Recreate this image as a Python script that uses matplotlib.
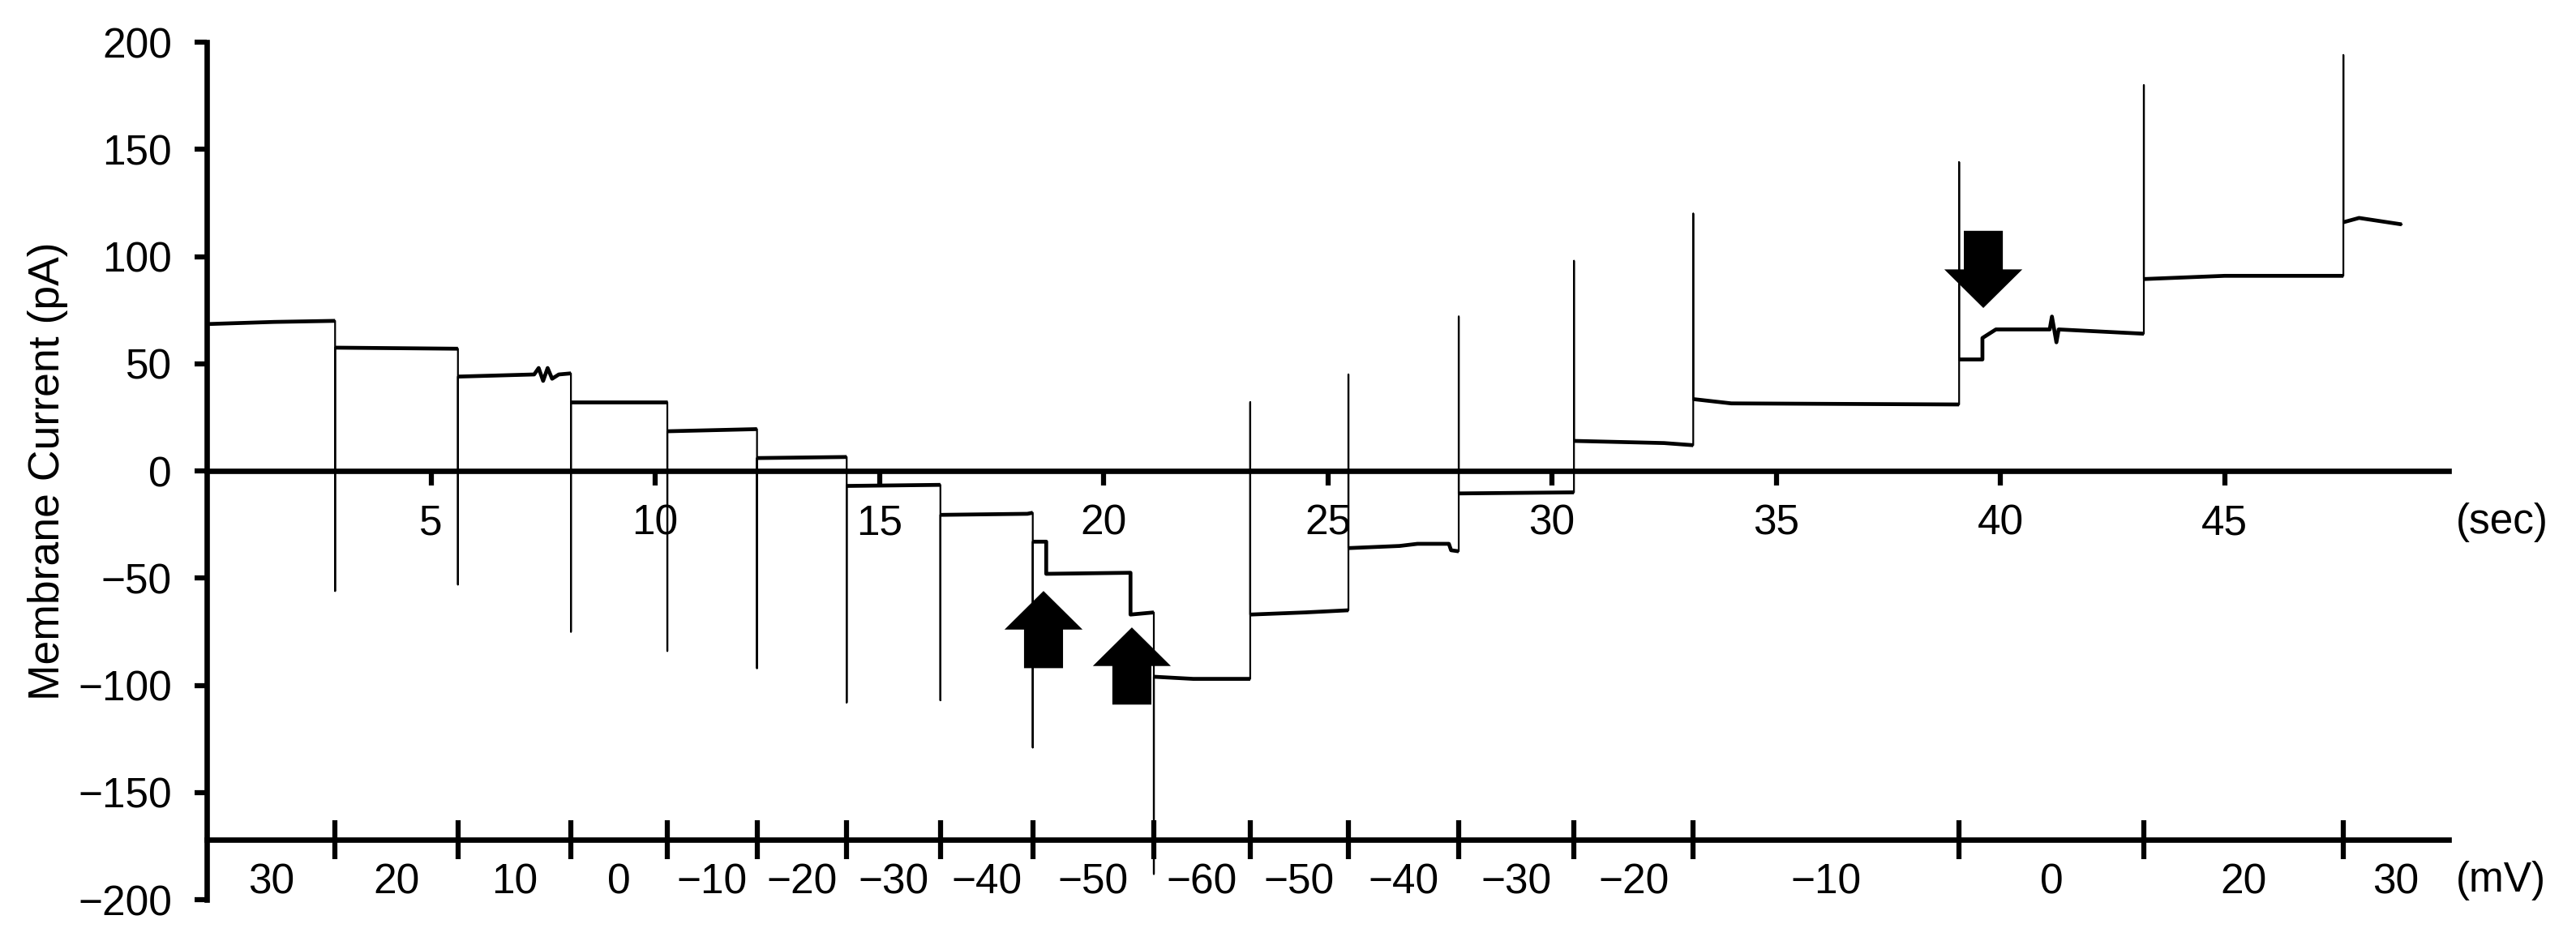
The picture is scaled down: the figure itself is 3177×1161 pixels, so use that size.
import numpy as np
import matplotlib.pyplot as plt

plt.rcParams['font.family'] = ['Liberation Sans', 'DejaVu Sans']

# times (sec) where the holding voltage was changed
step_t = [2.86, 5.6, 8.12, 10.27, 12.27, 14.27, 16.36, 18.42, 21.12, 23.27,
          25.46, 27.92, 30.49, 33.15, 39.08, 43.2, 47.65]
# peak of the capacitive transient at each change (pA)
spike_pA = [-56, -53, -75, -84, -92, -108, -107, -129, -188, 32,
            45, 72, 98, 120, 144, 180, 194]
# holding voltage of each step (mV)
volt_mV = [30, 20, 10, 0, -10, -20, -30, -40, -50, -60,
           -50, -40, -30, -20, -10, 0, 20, 30]
# current read inside each step: (sec, pA)
level_pts = [
    [(0, 68.5), (1.5, 69.5), (2.86, 70)],
    [(2.86, 57.5), (5.6, 57)],
    [(5.6, 44), (7.3, 45), (7.4, 48), (7.5, 42), (7.6, 48), (7.7, 43), (7.85, 45), (8.12, 45.5)],
    [(8.12, 32), (10.27, 32)],
    [(10.27, 18.5), (12.27, 19.5)],
    [(12.27, 6), (14.27, 6.5)],
    [(14.27, -7), (16.36, -6.5)],
    [(16.36, -20.5), (18.3, -20), (18.42, -19.5)],
    [(18.42, -33), (18.72, -33), (18.72, -48), (20.6, -47.5), (20.6, -67), (21.12, -66)],
    [(21.12, -96), (22.0, -97), (23.27, -97)],
    [(23.27, -67), (24.5, -66), (25.46, -65)],
    [(25.46, -36), (26.6, -35), (27.0, -34), (27.7, -34), (27.75, -37), (27.92, -37.5)],
    [(27.92, -10.5), (30.49, -10)],
    [(30.49, 14), (32.5, 13), (33.15, 12)],
    [(33.15, 33.5), (34.0, 31.5), (39.08, 31)],
    [(39.08, 52), (39.6, 52), (39.6, 62), (39.9, 66), (41.1, 66), (41.15, 72), (41.25, 60),
     (41.3, 66), (43.2, 64)],
    [(43.2, 89.5), (45.0, 91), (47.65, 91)],
    [(47.65, 116), (48.0, 118), (48.95, 115)],
]
time_ticks = [5, 10, 15, 20, 25, 30, 35, 40, 45]
current_ticks = [-200, -150, -100, -50, 0, 50, 100, 150, 200]

# arrows marking channel events: time, tail current, direction
arrow_t = [18.66, 20.63, 39.62]
arrow_tail = [-92, -109, 112]
arrow_dir = [1, 1, -1]

# build trace: levels joined by the transient spikes
tr_t, tr_i = [], []
for k, seg in enumerate(level_pts):
    for t, i in seg:
        tr_t.append(t)
        tr_i.append(i)
    if k < len(step_t):
        tr_t.append(step_t[k])
        tr_i.append(spike_pA[k])

fig = plt.figure(figsize=(31.77, 11.61), dpi=100)
ax = fig.add_axes([0.0803, 0.0439, 0.8703, 0.9113])

ax.plot(tr_t, tr_i, color='k', lw=1.6, zorder=3)
# recorded levels look thicker because of channel noise
for seg in level_pts:
    ax.plot([p[0] for p in seg], [p[1] for p in seg], color='k', lw=3.4,
            solid_capstyle='butt', zorder=3)

for t, y0, d in zip(arrow_t, arrow_tail, arrow_dir):
    ax.arrow(t, y0, 0, 36 * d, width=0.87, head_width=1.74, head_length=18,
             length_includes_head=True, fc='k', ec='none', zorder=4)

ax.set_xlim(0, 50)
ax.set_ylim(-200, 200)
ax.spines['top'].set_visible(False)
ax.spines['right'].set_visible(False)
ax.spines['bottom'].set_position(('data', 0))
ax.spines['left'].set_linewidth(4.8)
ax.spines['bottom'].set_linewidth(4.8)
ax.set_xticks(time_ticks)
ax.set_yticks(current_ticks)
ax.tick_params(axis='x', direction='out', length=13, width=4.5, labelsize=37, pad=16)
ax.tick_params(axis='y', direction='out', length=11, width=4.5, labelsize=37, pad=20)
ax.set_ylabel('Membrane Current (pA)', fontsize=38.5)
ax.yaxis.set_label_coords(-0.0618, 0.5)
ax.text(50.16, -24, '(sec)', fontsize=37, ha='left', va='center', clip_on=False)

# voltage protocol axis
ax2 = ax.twiny()
ax2.set_xlim(0, 50)
for s in ['top', 'right', 'left']:
    ax2.spines[s].set_visible(False)
ax2.spines['bottom'].set_visible(True)
ax2.spines['bottom'].set_position(('data', -172))
ax2.spines['bottom'].set_linewidth(4.8)
ax2.xaxis.set_ticks_position('bottom')
edges = [0] + step_t + [50]
centers = [(edges[k] + edges[k + 1]) / 2 for k in range(len(volt_mV))]
ax2.set_xticks(step_t)
ax2.set_xticklabels([])
ax2.set_xticks(centers, minor=True)
ax2.set_xticklabels([str(v).replace('-', '\u2212') for v in volt_mV], minor=True)
ax2.tick_params(which='both', bottom=True, top=False, labelbottom=True, labeltop=False)
ax2.tick_params(which='major', direction='inout', length=34, width=4.5)
ax2.tick_params(which='minor', length=0, labelsize=37, pad=20.5)
ax.text(50.16, -191, '(mV)', fontsize=37, ha='left', va='center', clip_on=False)

fig.savefig('out.png', dpi=100)
